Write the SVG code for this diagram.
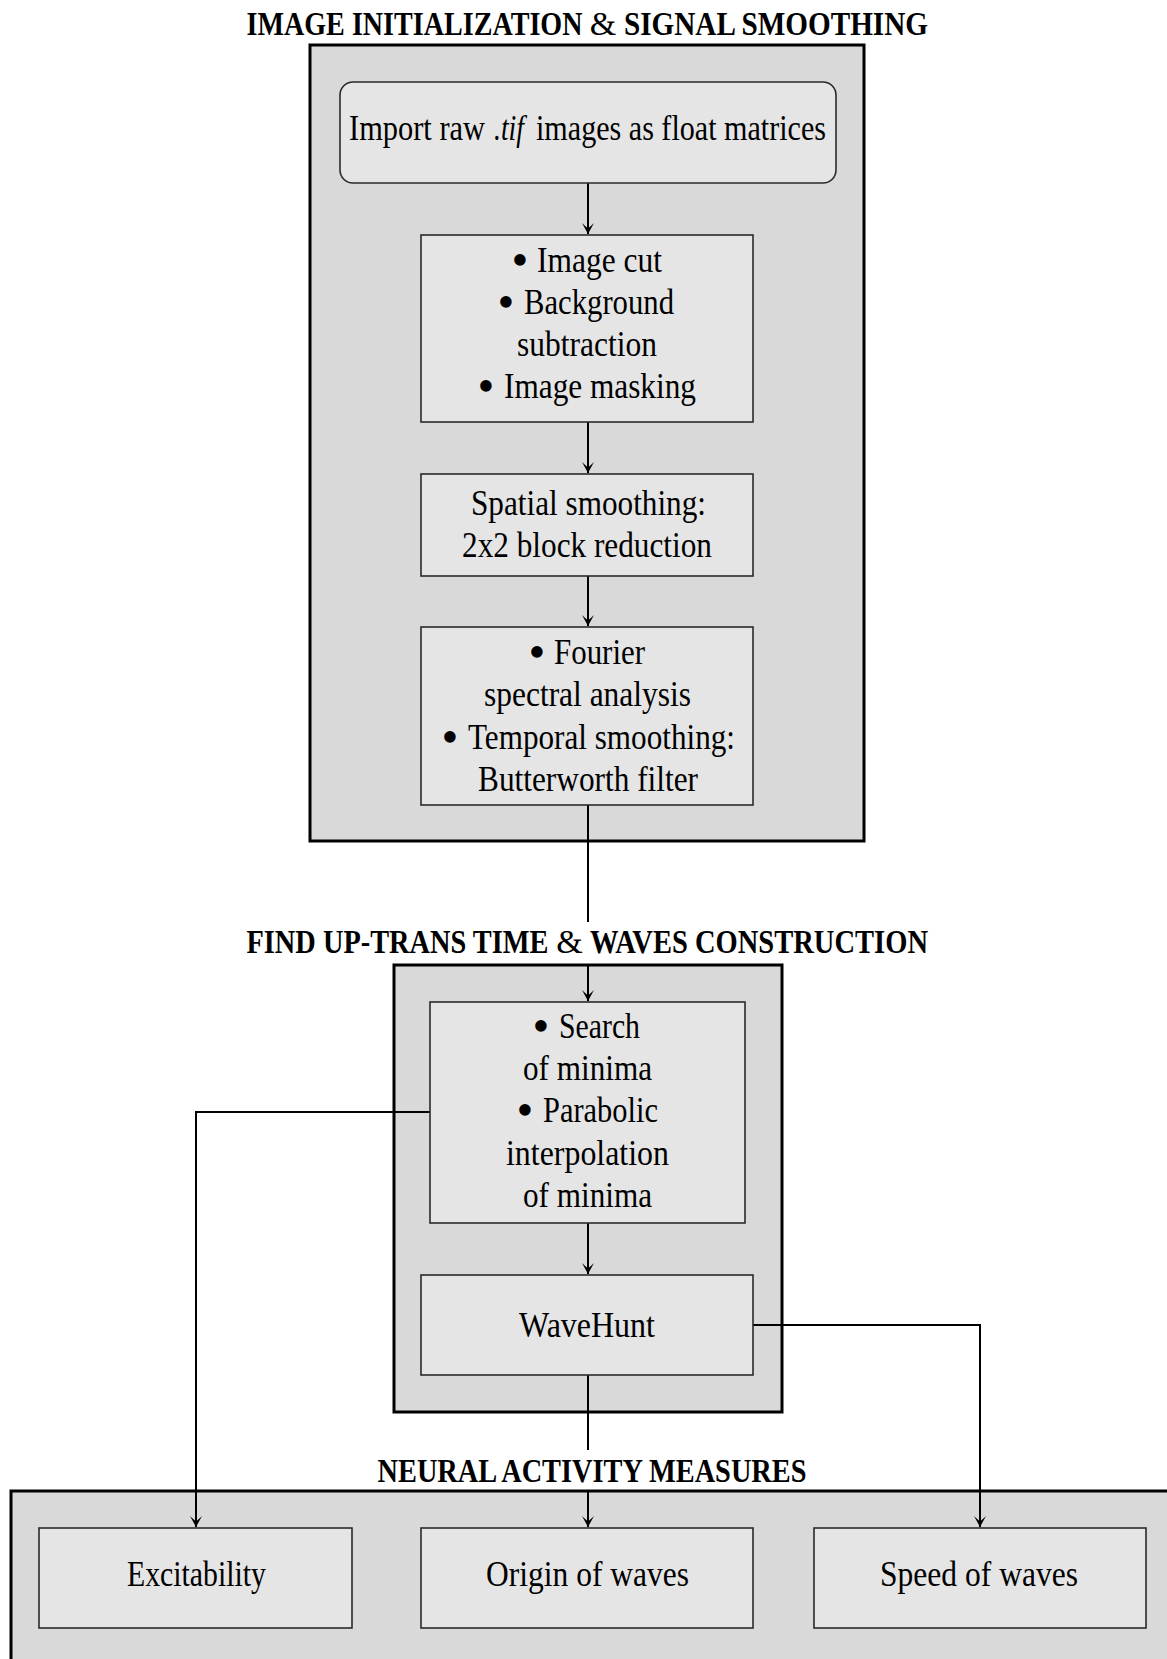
<svg xmlns="http://www.w3.org/2000/svg" width="1167" height="1659" viewBox="0 0 1167 1659">
<style>
  .outer { fill: #d9d9d9; stroke: #000; stroke-width: 3; }
  .inner { fill: #e5e5e5; stroke: #2a2a2a; stroke-width: 1.6; }
  .t { font-family: "Liberation Serif", "DejaVu Serif", serif; font-size: 36px; fill: #000; text-anchor: middle; }
  .i { font-style: italic; }
  .title { font-family: "Liberation Serif", "DejaVu Serif", serif; font-size: 34px; font-weight: bold; fill: #000; text-anchor: middle; }
  .amp { font-family: "Liberation Serif", "DejaVu Serif", serif; font-size: 34px; fill: #000; text-anchor: middle; }
  .b { font-family: "Liberation Serif", "DejaVu Serif", serif; font-size: 48px; fill: #000; text-anchor: middle; }
  .conn { fill: none; stroke: #000; stroke-width: 2; }
  text.s { text-anchor: start; }
  text.e { text-anchor: end; }
</style>
<defs>
  <marker id="arr" viewBox="-12 -7 14 14" refX="0" refY="0" markerWidth="14" markerHeight="14" markerUnits="userSpaceOnUse" orient="auto">
    <path d="M0,0 L-11,-6 Q-6,-1 -6,0 Q-6,1 -11,6 Z" fill="#000"/>
  </marker>
</defs>
<rect width="1167" height="1659" fill="#fff"/>

<g id="stage1">
  <rect class="outer" x="310" y="45" width="554" height="796"/>
  <text class="title s" x="246.5" y="35" textLength="336" lengthAdjust="spacingAndGlyphs">IMAGE INITIALIZATION</text>
  <text class="amp" x="603" y="35">&amp;</text>
  <text class="title e" x="928" y="35" textLength="304" lengthAdjust="spacingAndGlyphs">SIGNAL SMOOTHING</text>
</g>
<g id="stage2">
  <rect class="outer" x="394" y="965" width="388" height="447"/>
  <text class="title s" x="246.5" y="953" textLength="302" lengthAdjust="spacingAndGlyphs">FIND UP-TRANS TIME</text>
  <text class="amp" x="569.5" y="953">&amp;</text>
  <text class="title e" x="928" y="953" textLength="338" lengthAdjust="spacingAndGlyphs">WAVES CONSTRUCTION</text>
</g>
<g id="stage3">
  <rect class="outer" x="11" y="1491" width="1175" height="200"/>
  <text class="title" x="592" y="1482" textLength="429" lengthAdjust="spacingAndGlyphs">NEURAL ACTIVITY MEASURES</text>
</g>

<g id="connectors">
  <line class="conn" x1="588" y1="183" x2="588" y2="234" marker-end="url(#arr)"/>
  <line class="conn" x1="588" y1="422" x2="588" y2="473" marker-end="url(#arr)"/>
  <line class="conn" x1="588" y1="576" x2="588" y2="626" marker-end="url(#arr)"/>
  <line class="conn" x1="588" y1="805" x2="588" y2="922"/>
  <line class="conn" x1="588" y1="965" x2="588" y2="1001" marker-end="url(#arr)"/>
  <line class="conn" x1="588" y1="1223" x2="588" y2="1274" marker-end="url(#arr)"/>
  <line class="conn" x1="588" y1="1375" x2="588" y2="1450"/>
  <line class="conn" x1="588" y1="1491" x2="588" y2="1527" marker-end="url(#arr)"/>
  <polyline class="conn" points="430,1112 196,1112 196,1527" marker-end="url(#arr)"/>
  <polyline class="conn" points="753,1325 980,1325 980,1527" marker-end="url(#arr)"/>
</g>

<g id="import">
  <rect class="inner" x="340" y="82" width="496" height="101" rx="13" ry="13"/>
  <text class="t s" x="349" y="140" textLength="136" lengthAdjust="spacingAndGlyphs">Import raw</text>
  <text class="t i" x="509" y="140" textLength="30" lengthAdjust="spacingAndGlyphs">.tif</text>
  <text class="t e" x="826" y="140" textLength="290" lengthAdjust="spacingAndGlyphs">images as float matrices</text>
</g>

<g id="preprocess">
  <rect class="inner" x="421" y="235" width="332" height="187"/>
  <text class="b" x="520" y="276">•</text>
  <text class="t s" x="537" y="272" textLength="125" lengthAdjust="spacingAndGlyphs">Image cut</text>
  <text class="b" x="506" y="318">•</text>
  <text class="t s" x="524" y="314" textLength="150" lengthAdjust="spacingAndGlyphs">Background</text>
  <text class="t" x="587" y="356" textLength="140" lengthAdjust="spacingAndGlyphs">subtraction</text>
  <text class="b" x="486" y="402">•</text>
  <text class="t s" x="504" y="398" textLength="192" lengthAdjust="spacingAndGlyphs">Image masking</text>
</g>

<g id="spatial">
  <rect class="inner" x="421" y="474" width="332" height="102"/>
  <text class="t" x="588.5" y="515" textLength="235" lengthAdjust="spacingAndGlyphs">Spatial smoothing:</text>
  <text class="t" x="587" y="557" textLength="250" lengthAdjust="spacingAndGlyphs">2x2 block reduction</text>
</g>

<g id="temporal">
  <rect class="inner" x="421" y="627" width="332" height="178"/>
  <text class="b" x="537" y="668">•</text>
  <text class="t s" x="554" y="664" textLength="91" lengthAdjust="spacingAndGlyphs">Fourier</text>
  <text class="t" x="587.5" y="706" textLength="207" lengthAdjust="spacingAndGlyphs">spectral analysis</text>
  <text class="b" x="450" y="753">•</text>
  <text class="t s" x="468" y="749" textLength="267" lengthAdjust="spacingAndGlyphs">Temporal smoothing:</text>
  <text class="t" x="588" y="791" textLength="220" lengthAdjust="spacingAndGlyphs">Butterworth filter</text>
</g>

<g id="minima">
  <rect class="inner" x="430" y="1002" width="315" height="221"/>
  <text class="b" x="541" y="1042">•</text>
  <text class="t s" x="559" y="1038" textLength="81" lengthAdjust="spacingAndGlyphs">Search</text>
  <text class="t" x="587.5" y="1080" textLength="129" lengthAdjust="spacingAndGlyphs">of minima</text>
  <text class="b" x="525" y="1126">•</text>
  <text class="t s" x="543" y="1122" textLength="115" lengthAdjust="spacingAndGlyphs">Parabolic</text>
  <text class="t" x="587.5" y="1165" textLength="163" lengthAdjust="spacingAndGlyphs">interpolation</text>
  <text class="t" x="587.5" y="1207" textLength="129" lengthAdjust="spacingAndGlyphs">of minima</text>
</g>

<g id="wavehunt">
  <rect class="inner" x="421" y="1275" width="332" height="100"/>
  <text class="t" x="587" y="1337" textLength="136" lengthAdjust="spacingAndGlyphs">WaveHunt</text>
</g>

<g id="excitability">
  <rect class="inner" x="39" y="1528" width="313" height="100"/>
  <text class="t" x="196.5" y="1586" textLength="139" lengthAdjust="spacingAndGlyphs">Excitability</text>
</g>
<g id="origin">
  <rect class="inner" x="421" y="1528" width="332" height="100"/>
  <text class="t" x="587.5" y="1586" textLength="203" lengthAdjust="spacingAndGlyphs">Origin of waves</text>
</g>
<g id="speed">
  <rect class="inner" x="814" y="1528" width="332" height="100"/>
  <text class="t" x="979" y="1586" textLength="198" lengthAdjust="spacingAndGlyphs">Speed of waves</text>
</g>
</svg>
